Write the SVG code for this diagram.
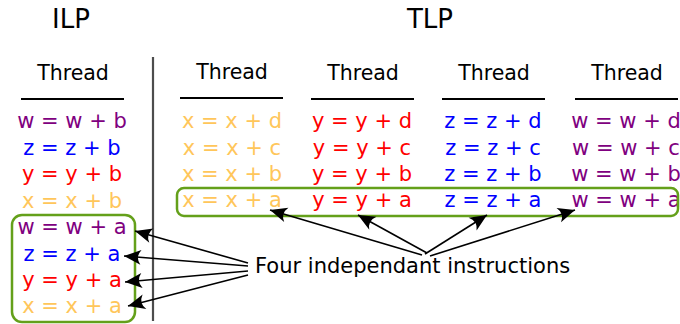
<svg xmlns="http://www.w3.org/2000/svg" width="680" height="324" viewBox="0 0 680 324">
  <style>
    text { font-family: "DejaVu Sans", "Liberation Sans", sans-serif; }
    .title { font-size: 26px; fill: #000; text-anchor: middle; }
    .hdr { font-size: 20.5px; fill: #000; text-anchor: middle; }
    .ins { font-size: 21px; text-anchor: middle; }
    .w { fill: #800080; }
    .z { fill: #0000ff; }
    .y { fill: #ff0000; }
    .x { fill: #ffc65a; }
    .rule { stroke: #000; stroke-width: 2; }
    .box { fill: none; stroke: #64a01a; stroke-width: 2.5; }
    .arrow { stroke: #000; stroke-width: 1.6; fill: none; marker-end: url(#ah); }
    .label { font-size: 21px; fill: #000; }
  </style>
  <defs>
    <marker id="ah" markerUnits="userSpaceOnUse" viewBox="-18 -9 20 18" refX="0" refY="0" markerWidth="20" markerHeight="18" orient="auto">
      <path d="M0,0 L-17,-7.5 Q-11,0 -17,7.5 Z" fill="#000"/>
    </marker>
  </defs>

  <rect width="680" height="324" fill="#fff"/>

  <g id="titles">
    <text class="title" x="71" y="28">ILP</text>
    <text class="title" x="430" y="28">TLP</text>
  </g>

  <line id="separator" x1="153" y1="57" x2="153" y2="321" stroke="#4d4d4d" stroke-width="2.2"/>

  <g id="ilp-thread">
    <text class="hdr" x="73" y="80">Thread</text>
    <line class="rule" x1="21" y1="99" x2="124" y2="99"/>
    <text class="ins w" x="72" y="128">w = w + b</text>
    <text class="ins z" x="72" y="154.5">z = z + b</text>
    <text class="ins y" x="72" y="181">y = y + b</text>
    <text class="ins x" x="72" y="207.5">x = x + b</text>
    <text class="ins w" x="72" y="234">w = w + a</text>
    <text class="ins z" x="72" y="260.5">z = z + a</text>
    <text class="ins y" x="72" y="287">y = y + a</text>
    <text class="ins x" x="72" y="313">x = x + a</text>
  </g>

  <g id="tlp-thread-x">
    <text class="hdr" x="232" y="79">Thread</text>
    <line class="rule" x1="180" y1="98" x2="283" y2="98"/>
    <text class="ins x" x="232" y="128">x = x + d</text>
    <text class="ins x" x="232" y="154.5">x = x + c</text>
    <text class="ins x" x="232" y="180.5">x = x + b</text>
    <text class="ins x" x="232" y="207">x = x + a</text>
  </g>

  <g id="tlp-thread-y">
    <text class="hdr" x="363" y="80">Thread</text>
    <line class="rule" x1="311" y1="99" x2="414" y2="99"/>
    <text class="ins y" x="362" y="128">y = y + d</text>
    <text class="ins y" x="362" y="154.5">y = y + c</text>
    <text class="ins y" x="362" y="180.5">y = y + b</text>
    <text class="ins y" x="362" y="207">y = y + a</text>
  </g>

  <g id="tlp-thread-z">
    <text class="hdr" x="494" y="80">Thread</text>
    <line class="rule" x1="442" y1="99" x2="545" y2="99"/>
    <text class="ins z" x="493" y="128">z = z + d</text>
    <text class="ins z" x="493" y="154.5">z = z + c</text>
    <text class="ins z" x="493" y="180.5">z = z + b</text>
    <text class="ins z" x="493" y="207">z = z + a</text>
  </g>

  <g id="tlp-thread-w">
    <text class="hdr" x="627" y="80">Thread</text>
    <line class="rule" x1="575" y1="99" x2="678" y2="99"/>
    <text class="ins w" x="626" y="128">w = w + d</text>
    <text class="ins w" x="626" y="154.5">w = w + c</text>
    <text class="ins w" x="626" y="180.5">w = w + b</text>
    <text class="ins w" x="626" y="207">w = w + a</text>
  </g>

  <g id="groups">
    <rect id="ilp-box" class="box" x="12" y="215" width="123" height="107" rx="10"/>
    <rect id="tlp-box" class="box" x="177" y="188" width="501" height="28" rx="7"/>
  </g>

  <g id="label">
    <text class="label" x="255" y="273">Four independant instructions</text>
  </g>

  <g id="connectors">
    <line class="arrow" x1="248" y1="263" x2="135" y2="231"/>
    <line class="arrow" x1="248" y1="266" x2="124" y2="256"/>
    <line class="arrow" x1="248" y1="271" x2="125" y2="282"/>
    <line class="arrow" x1="248" y1="275" x2="128" y2="306"/>
    <line class="arrow" x1="422" y1="255" x2="270" y2="210"/>
    <line class="arrow" x1="427" y1="253" x2="358" y2="215"/>
    <line class="arrow" x1="425" y1="254" x2="487" y2="215"/>
    <line class="arrow" x1="430" y1="256" x2="575" y2="210"/>
  </g>
</svg>
